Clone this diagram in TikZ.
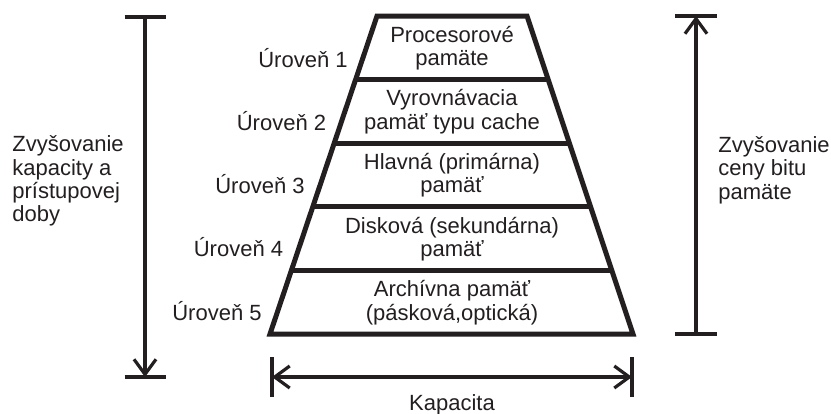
\documentclass[tikz,border=0pt]{standalone}
\usepackage{fontspec}
\setmainfont{Liberation Sans}
\usetikzlibrary{arrows.meta,calc}
\definecolor{ink}{HTML}{231F20}
\tikzset{
   txt/.style={inner sep=0pt, text=ink, font=\fontsize{11}{11.7}\selectfont},
   band/.style={txt, align=center},
   wall/.style={draw=ink, line width=2.5pt},
   bar/.style={draw=ink, line width=1.6pt},
   dim/.style={draw=ink, line width=1.6pt, ->},
   >={Straight Barb[length=7.5pt,width=11pt]}
}
\begin{document}
\begin{tikzpicture}[x=0.5pt, y=-0.5pt]
   \useasboundingbox (0,0) rectangle (831,413);
   % Pyramid of memory levels
   \coordinate (TL) at (377,16);
   \coordinate (TR) at (527,16);
   \coordinate (BL) at (270,334);
   \coordinate (BR) at (633,334);
   \draw[wall] (TL) -- (TR) -- (BR) -- (BL) -- cycle;
   \foreach \t in {0.2,0.4,0.6,0.8} {
      \draw[wall] ($(TL)!\t!(BL)$) -- ($(TR)!\t!(BR)$);
   }
   \foreach \i/\txt in {1/{Procesorové\\pamäte},
                        2/{Vyrovnávacia\\pamäť typu cache},
                        3/{Hlavná (primárna)\\pamäť},
                        4/{Disková (sekundárna)\\pamäť},
                        5/{Archívna pamäť\\(pásková,optická)}} {
      \node[band] (P\i) at (452,{63.6*\i-15.4}) {\txt};
      \node[txt, anchor=base east] (U\i) at ({369.5-21.5*\i},{3.7+63.3*\i}) {Úroveň \i};
   }

   % Left: capacity and access time
   \coordinate (LT) at (145,17);
   \coordinate (LB) at (145,377);
   \draw[bar] ([xshift=-10.25pt]LT) -- ([xshift=10.25pt]LT);
   \draw[bar] ([xshift=-10.25pt]LB) -- ([xshift=10.25pt]LB);
   \draw[dim] (LT) -- (LB);
   \node[txt, align=left, anchor=west] (inc) at (12,181) {Zvyšovanie\\kapacity a\\prístupovej\\doby};

   % Right: price per bit
   \coordinate (RT) at (696,16);
   \coordinate (RB) at (696,334);
   \draw[bar] ([xshift=-10.5pt]RT) -- ([xshift=10.5pt]RT);
   \draw[bar] ([xshift=-10.5pt]RB) -- ([xshift=10.5pt]RB);
   \draw[dim] (RB) -- (RT);
   \node[txt, align=left, anchor=west] (cena) at (718,170) {Zvyšovanie\\ceny bitu\\pamäte};

   % Bottom: capacity
   \coordinate (KL) at (272,377);
   \coordinate (KR) at (632,377);
   \draw[bar] ([yshift=-10pt]KL) -- ([yshift=10pt]KL);
   \draw[bar] ([yshift=-10pt]KR) -- ([yshift=10pt]KR);
   \draw[dim, <->] (KL) -- (KR);
   \node[txt, anchor=base] (kap) at (452,410) {Kapacita};
\end{tikzpicture}
\end{document}
